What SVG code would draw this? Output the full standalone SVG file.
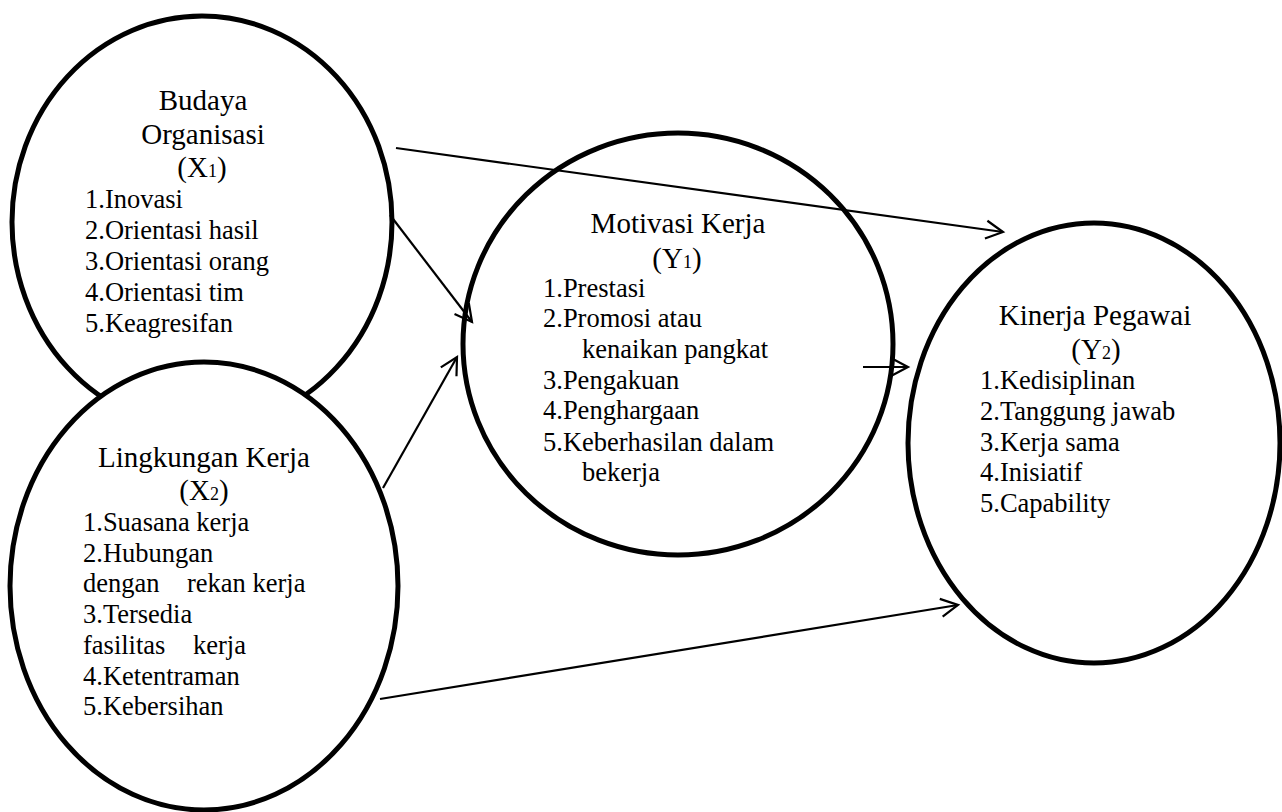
<svg xmlns="http://www.w3.org/2000/svg" width="1282" height="812" viewBox="0 0 1282 812">
<style>
.node{fill:#fff;stroke:#000;stroke-width:5}
.h{font-family:"Liberation Serif","Times New Roman",serif;font-size:29px;fill:#000;text-anchor:middle}
.t{font-family:"Liberation Serif","Times New Roman",serif;font-size:26.5px;fill:#000}
.sub{font-size:18px}
.conn line{stroke:#000;stroke-width:2.2;fill:none}
</style>
<defs>
<marker id="arr" markerUnits="userSpaceOnUse" markerWidth="40" markerHeight="40" refX="0" refY="0" viewBox="-20 -20 40 40" orient="auto" overflow="visible">
<path d="M-17,-9 L0,0 L-17,9" fill="none" stroke="#000" stroke-width="2.2"/>
</marker>
</defs>
<rect width="1282" height="812" fill="#fff"/>
<g id="budaya">
<ellipse class="node" cx="202" cy="222" rx="190" ry="206"/>
<text class="h" x="203" y="110">Budaya</text>
<text class="h" x="203" y="144">Organisasi</text>
<text class="h" x="202" y="177">(X<tspan class="sub">1</tspan>)</text>
<text class="t" x="85" y="208">1.Inovasi</text>
<text class="t" x="85" y="239">2.Orientasi hasil</text>
<text class="t" x="85" y="270">3.Orientasi orang</text>
<text class="t" x="85" y="301">4.Orientasi tim</text>
<text class="t" x="85" y="332">5.Keagresifan</text>
</g>
<g id="lingkungan">
<ellipse class="node" cx="204" cy="586" rx="194" ry="224"/>
<text class="h" x="204" y="467">Lingkungan Kerja</text>
<text class="h" x="204" y="500">(X<tspan class="sub">2</tspan>)</text>
<text class="t" x="83" y="531">1.Suasana kerja</text>
<text class="t" x="83" y="562">2.Hubungan</text>
<text class="t" x="83" y="592">dengan</text>
<text class="t" x="187" y="592">rekan kerja</text>
<text class="t" x="83" y="623">3.Tersedia</text>
<text class="t" x="83" y="654">fasilitas</text>
<text class="t" x="193" y="654">kerja</text>
<text class="t" x="83" y="685">4.Ketentraman</text>
<text class="t" x="83" y="715">5.Kebersihan</text>
</g>
<g id="motivasi">
<ellipse class="node" cx="678" cy="344" rx="215" ry="211"/>
<text class="h" x="678" y="233">Motivasi Kerja</text>
<text class="h" x="677" y="268">(Y<tspan class="sub">1</tspan>)</text>
<text class="t" x="543" y="297">1.Prestasi</text>
<text class="t" x="543" y="327">2.Promosi atau</text>
<text class="t" x="582" y="358">kenaikan pangkat</text>
<text class="t" x="543" y="389">3.Pengakuan</text>
<text class="t" x="543" y="419">4.Penghargaan</text>
<text class="t" x="543" y="451">5.Keberhasilan dalam</text>
<text class="t" x="582" y="481">bekerja</text>
</g>
<g id="kinerja">
<ellipse class="node" cx="1094" cy="443" rx="186" ry="220"/>
<text class="h" x="1095" y="325">Kinerja Pegawai</text>
<text class="h" x="1096" y="359">(Y<tspan class="sub">2</tspan>)</text>
<text class="t" x="980" y="389">1.Kedisiplinan</text>
<text class="t" x="980" y="420">2.Tanggung jawab</text>
<text class="t" x="980" y="451">3.Kerja sama</text>
<text class="t" x="980" y="481">4.Inisiatif</text>
<text class="t" x="980" y="512">5.Capability</text>
</g>
<g id="connectors" class="conn">
<line x1="396" y1="148" x2="1003" y2="232" marker-end="url(#arr)"/>
<line x1="390" y1="215" x2="472" y2="322" marker-end="url(#arr)"/>
<line x1="383" y1="488" x2="457" y2="357" marker-end="url(#arr)"/>
<line x1="863" y1="367" x2="908" y2="367" marker-end="url(#arr)"/>
<line x1="380" y1="699" x2="958" y2="605" marker-end="url(#arr)"/>
</g>
</svg>
